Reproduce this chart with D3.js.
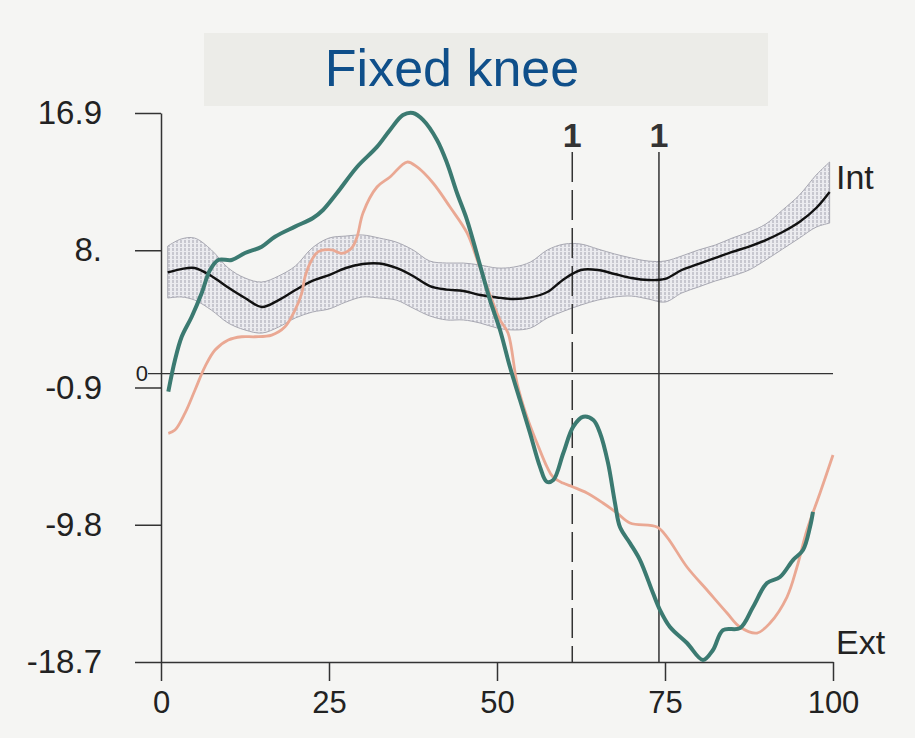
<!DOCTYPE html>
<html>
<head>
<meta charset="utf-8">
<script src="https://cdn.jsdelivr.net/npm/d3@7"></script>
<style>
  html, body { margin: 0; padding: 0; background: #f5f5f3; }
  svg { display: block; }
  text { font-family: "Liberation Sans", Arial, sans-serif; }
</style>
</head>
<body>
<svg id="chart" width="915" height="738"></svg>
<script>
// ---- data ----
const titleText = "Fixed knee";
const yTickValues = [16.9, 8, -0.9, -9.8, -18.7];
const yTickLabels = ["16.9", "8.", "-0.9", "-9.8", "-18.7"];
const xTickValues = [0, 25, 50, 75, 100];
const eventLines = [61.2, 74.1];
const eventLabels = ["1", "1"];

const normX = [1, 3, 5, 7.5, 10, 12.5, 15, 17.5, 20, 22.5, 25, 27.5, 30, 32.5, 35, 37.5, 40, 42.5, 45, 47.5, 50, 52.5, 55, 57.5, 60, 62.5, 65, 67.5, 70, 72.5, 75, 77.5, 80, 82.5, 85, 87.5, 90, 92.5, 95, 97.5, 99.5];
const normMean = [6.56, 6.78, 6.85, 6.33, 5.58, 4.90, 4.32, 4.77, 5.42, 6.01, 6.39, 6.85, 7.11, 7.14, 6.85, 6.33, 5.68, 5.45, 5.36, 5.10, 4.94, 4.84, 4.94, 5.29, 6.14, 6.72, 6.72, 6.46, 6.20, 6.07, 6.14, 6.72, 7.11, 7.50, 7.89, 8.24, 8.66, 9.18, 9.83, 10.74, 11.78];
const normUpper = [8.27, 8.73, 8.79, 8.02, 6.85, 6.20, 5.94, 6.33, 6.98, 8.15, 8.79, 8.92, 8.99, 8.79, 8.53, 8.02, 7.30, 7.17, 7.17, 7.04, 6.85, 6.91, 7.24, 8.02, 8.40, 8.40, 8.08, 7.76, 7.50, 7.30, 7.30, 7.63, 8.02, 8.34, 8.79, 9.18, 9.70, 10.61, 11.58, 12.88, 13.72];
const normLower = [4.90, 4.97, 4.77, 4.12, 3.28, 2.83, 2.63, 3.02, 3.61, 3.99, 4.19, 4.64, 4.97, 4.90, 4.77, 4.25, 3.74, 3.48, 3.48, 3.28, 2.96, 2.83, 2.96, 3.61, 4.06, 4.45, 4.77, 4.97, 5.03, 4.84, 4.64, 5.23, 5.62, 6.01, 6.33, 6.72, 7.37, 8.08, 8.79, 9.50, 9.76];

const greenX = [1.09, 2.08, 3.08, 4.57, 6.06, 7.29, 8.53, 10.52, 12.5, 14.99, 16.96, 19.94, 22.62, 24.11, 26.19, 29.17, 32.14, 34.08, 36.01, 37.5, 38.99, 41.07, 42.56, 44.05, 45.54, 47.17, 48.96, 50.45, 51.93, 53.42, 54.91, 56.4, 57.4, 58.38, 59.87, 61.35, 62.84, 64.33, 65.33, 66.52, 67.56, 68.3, 69.79, 71.28, 73.21, 74.26, 75.74, 78.27, 80.65, 82.14, 83.63, 86.16, 88.1, 90.18, 92.11, 94.05, 95.54, 96.58, 97.02];
const greenY = [-1.17, 0.88, 2.39, 3.69, 5.23, 6.72, 7.37, 7.37, 7.82, 8.23, 8.88, 9.53, 10.09, 10.61, 11.71, 13.40, 14.70, 15.80, 16.77, 16.90, 16.45, 15.15, 13.66, 11.71, 9.96, 7.50, 4.77, 2.83, 0.43, -1.71, -3.85, -6.05, -7.01, -6.90, -5.15, -3.44, -2.80, -3.01, -3.85, -5.79, -8.39, -9.95, -10.99, -12.09, -14.23, -15.33, -16.43, -17.47, -18.57, -17.92, -16.63, -16.50, -15.13, -13.58, -13.19, -12.09, -11.44, -9.95, -8.97];

const orangeX = [1.09, 2.08, 3.57, 5.06, 6.55, 8.04, 10.01, 12.01, 13.99, 16.47, 18.45, 19.94, 20.94, 21.43, 22.43, 23.41, 25.4, 26.89, 28.38, 29.17, 30.06, 32.14, 34.08, 36.61, 38.1, 40.48, 43.01, 45.54, 47.17, 48.96, 50.45, 51.64, 52.98, 54.46, 55.95, 57.44, 58.33, 59.82, 61.31, 63.39, 65.77, 67.86, 69.79, 73.81, 75.3, 78.27, 81.25, 84.23, 86.16, 88.69, 90.63, 93.15, 94.64, 96.13, 98.07, 100];
const orangeY = [-3.87, -3.66, -2.56, -1.06, 0.45, 1.53, 2.18, 2.39, 2.39, 2.50, 3.04, 4.12, 5.21, 6.28, 7.37, 7.91, 8.02, 7.80, 8.15, 8.86, 10.42, 12.10, 12.75, 13.72, 13.40, 12.36, 10.80, 9.12, 7.24, 5.10, 3.48, 2.63, -0.61, -2.81, -4.50, -6.05, -6.71, -7.10, -7.35, -7.74, -8.39, -9.04, -9.69, -9.95, -10.60, -12.54, -14.03, -15.52, -16.43, -16.82, -16.17, -14.49, -12.54, -10.14, -7.74, -5.28];

// ---- drawing ----
const svg = d3.select("#chart");
const x = d3.scaleLinear().domain([0, 100]).range([161, 833]);
const y = d3.scaleLinear().domain([-18.7, 16.9]).range([662, 113]);

// title box
svg.append("rect").attr("x", 204).attr("y", 33).attr("width", 564).attr("height", 73).attr("fill", "#ececE8");
svg.append("text").attr("x", 452).attr("y", 86).attr("text-anchor", "middle")
  .attr("font-size", 52).attr("fill", "#0f4f8a").text(titleText);

// hatch pattern for normal band
const defs = svg.append("defs");
const pat = defs.append("pattern").attr("id", "hatch").attr("patternUnits", "userSpaceOnUse")
  .attr("width", 4).attr("height", 4);
pat.append("rect").attr("width", 4).attr("height", 4).attr("fill", "#ebebef");
pat.append("line").attr("x1", 1).attr("x2", 1).attr("y1", 0).attr("y2", 3)
  .attr("stroke", "#a4a4b0").attr("stroke-width", 1);

const band = normX.map((d, i) => ({x: d, lo: normLower[i], hi: normUpper[i], m: normMean[i]}));
svg.append("path").datum(band)
  .attr("d", d3.area().x(d => x(d.x)).y0(d => y(d.lo)).y1(d => y(d.hi)).curve(d3.curveCatmullRom))
  .attr("fill", "url(#hatch)").attr("stroke", "#a8a8b2").attr("stroke-width", 1);

// zero line
svg.append("line").attr("x1", 148).attr("x2", x(100)).attr("y1", y(0)).attr("y2", y(0))
  .attr("stroke", "#333").attr("stroke-width", 1.4);
svg.append("text").attr("x", 148).attr("y", y(0) + 7).attr("text-anchor", "end")
  .attr("font-size", 22).attr("fill", "#222").text("0");

// y axis
const yAxis = d3.axisLeft(y).tickValues(yTickValues).tickSize(26).tickSizeOuter(0).tickPadding(33)
  .tickFormat((d, i) => yTickLabels[i]);
const gy = svg.append("g").attr("transform", `translate(${x(0)},0)`).call(yAxis);
gy.selectAll("path, line").attr("stroke", "#333").attr("stroke-width", 1.5);
gy.selectAll("text").attr("font-size", 33).attr("fill", "#222")
  .attr("font-family", "'Liberation Sans', Arial, sans-serif");

// x axis
const xAxis = d3.axisBottom(x).tickValues(xTickValues).tickSize(19).tickSizeOuter(0).tickPadding(10);
const gx = svg.append("g").attr("transform", `translate(0,${y(-18.7)})`).call(xAxis);
gx.selectAll("path, line").attr("stroke", "#333").attr("stroke-width", 1.5);
gx.selectAll("text").attr("font-size", 31).attr("fill", "#222")
  .attr("font-family", "'Liberation Sans', Arial, sans-serif");

// event lines
eventLines.forEach((v, i) => {
  svg.append("line").attr("x1", x(v)).attr("x2", x(v)).attr("y1", 152).attr("y2", y(-18.7))
    .attr("stroke", "#333").attr("stroke-width", 1.5)
    .attr("stroke-dasharray", i === 0 ? "30,8" : null);
  svg.append("text").attr("x", x(v)).attr("y", 147).attr("text-anchor", "middle")
    .attr("font-size", 34).attr("font-weight", "bold").attr("fill", "#333").text(eventLabels[i]);
});

// mean line
svg.append("path").datum(band)
  .attr("d", d3.line().x(d => x(d.x)).y(d => y(d.m)).curve(d3.curveCatmullRom))
  .attr("fill", "none").attr("stroke", "#111").attr("stroke-width", 2.4);

// orange
const orange = orangeX.map((d, i) => [d, orangeY[i]]);
svg.append("path").datum(orange)
  .attr("d", d3.line().x(d => x(d[0])).y(d => y(d[1])).curve(d3.curveCatmullRom))
  .attr("fill", "none").attr("stroke", "#eaa893").attr("stroke-width", 2.8);

// green
const green = greenX.map((d, i) => [d, greenY[i]]);
svg.append("path").datum(green)
  .attr("d", d3.line().x(d => x(d[0])).y(d => y(d[1])).curve(d3.curveCatmullRom))
  .attr("fill", "none").attr("stroke", "#3b7a71").attr("stroke-width", 4);

// end labels
svg.append("text").attr("x", 836).attr("y", 189).attr("font-size", 34).attr("fill", "#222").text("Int");
svg.append("text").attr("x", 836).attr("y", 654).attr("font-size", 34).attr("fill", "#222").text("Ext");
</script>
</body>
</html>
